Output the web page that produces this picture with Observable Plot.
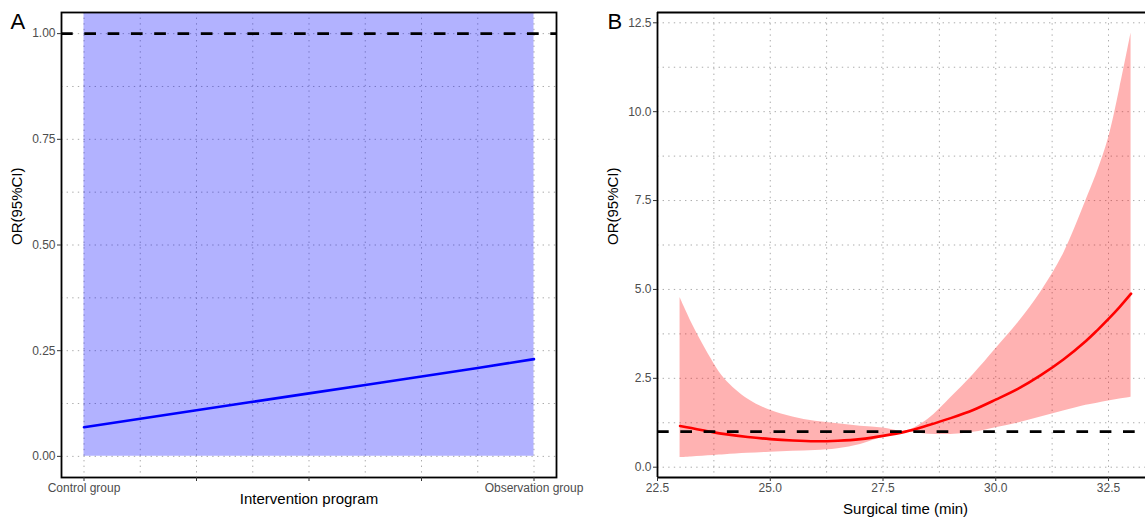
<!DOCTYPE html>
<html><head><meta charset="utf-8">
<script src="https://cdn.jsdelivr.net/npm/d3@7"></script>
<script src="https://cdn.jsdelivr.net/npm/@observablehq/plot@0.6"></script>
<style>
body{margin:0;background:#fff;}
#wrap{display:flex;width:1145px;height:517px;overflow:hidden;}
#wrap svg{display:block;flex:none;}
</style></head><body><div id="wrap"></div>
<script>
// ---------- Panel A data ----------
const xA = [0, 0.125, 0.25, 0.375, 0.5, 0.625, 0.75, 0.875, 1];
const orA = [0.069, 0.089, 0.109, 0.129, 0.149, 0.169, 0.189, 0.209, 0.230];
const lowA = [0, 0, 0, 0, 0, 0, 0, 0, 0];
const highA = [1.05, 1.05, 1.05, 1.05, 1.05, 1.05, 1.05, 1.05, 1.05];
const xBreaksA = [0, 0.25, 0.5, 0.75, 1];
const xLabelsA = ["Control group", "", "", "", "Observation group"];
const xMinorA = [0.125, 0.375, 0.625, 0.875];
const yBreaksA = [0, 0.25, 0.5, 0.75, 1];
const yLabelsA = ["0.00", "0.25", "0.50", "0.75", "1.00"];
const yMinorA = [0.125, 0.375, 0.625, 0.875];
const refA = [1];

// ---------- Panel B data ----------
const xB   = [23, 23.25, 23.5, 23.75, 24, 24.5, 25, 25.5, 26, 26.5, 27, 27.5, 28, 28.5, 29, 29.5, 30, 30.5, 31, 31.5, 32, 32.25, 32.5, 32.75, 33];
const orB  = [1.16, 1.10, 1.04, 0.98, 0.93, 0.85, 0.79, 0.75, 0.73, 0.745, 0.79, 0.88, 1.00, 1.18, 1.38, 1.61, 1.90, 2.21, 2.59, 3.03, 3.55, 3.85, 4.17, 4.51, 4.88];
const lowB = [0.27, 0.29, 0.31, 0.33, 0.35, 0.39, 0.42, 0.45, 0.47, 0.52, 0.64, 0.84, 0.99, 0.93, 0.92, 0.98, 1.11, 1.24, 1.41, 1.58, 1.74, 1.80, 1.86, 1.92, 1.97];
const highB= [4.77, 4.08, 3.47, 2.92, 2.47, 1.92, 1.60, 1.41, 1.29, 1.22, 1.15, 1.10, 1.02, 1.35, 1.95, 2.60, 3.33, 4.07, 4.93, 6.00, 7.50, 8.30, 9.25, 10.65, 12.21];
const xBreaksB = [22.5, 25, 27.5, 30, 32.5];
const xLabelsB = ["22.5", "25.0", "27.5", "30.0", "32.5"];
const xMinorB = [23.75, 26.25, 28.75, 31.25];
const yBreaksB = [0, 2.5, 5, 7.5, 10, 12.5];
const yLabelsB = ["0.0", "2.5", "5.0", "7.5", "10.0", "12.5"];
const yMinorB = [1.25, 3.75, 6.25, 8.75, 11.25];
const refB = [1];

const FONT = "Liberation Sans, Arial, Helvetica, sans-serif";
const GRID = {stroke: "#ababab", strokeWidth: 1, strokeDasharray: "1.4,4.2"};

const dataA = xA.map((x, i) => ({x, y: orA[i], lo: lowA[i], hi: highA[i]}));
const dataB = xB.map((x, i) => ({x, y: orB[i], lo: lowB[i], hi: highB[i]}));

const plotA = Plot.plot({
  width: 590, height: 517,
  marginLeft: 61, marginRight: 34, marginTop: 12, marginBottom: 40,
  style: {fontFamily: FONT, background: "white"},
  x: {domain: [-0.05, 1.05]},
  y: {domain: [-0.05, 1.05]},
  marks: [
    Plot.ruleX(xMinorA, GRID),
    Plot.ruleX(xBreaksA, GRID),
    Plot.ruleY(yMinorA, GRID),
    Plot.ruleY(yBreaksA, GRID),
    Plot.areaY(dataA, {x: "x", y1: "lo", y2: "hi", fill: "blue", fillOpacity: 0.3, clip: true}),
    Plot.line(dataA, {x: "x", y: "y", stroke: "blue", strokeWidth: 2.6}),
    Plot.ruleY(refA, {stroke: "black", strokeWidth: 2.6, strokeDasharray: "11.7,11.6"}),
    Plot.frame({stroke: "black", strokeWidth: 1.8}),
    Plot.axisX(xBreaksA, {tickSize: 4, tickPadding: 2, fontSize: 12, fill: "#4d4d4d", stroke: "#333",
      tickFormat: d => xLabelsA[xBreaksA.indexOf(d)], label: null}),
    Plot.axisY(yBreaksA, {tickSize: 4, tickPadding: 2, fontSize: 12, fill: "#4d4d4d", stroke: "#333",
      tickFormat: d => yLabelsA[yBreaksA.indexOf(d)], label: null}),
    Plot.text(["Intervention program"], {text: d => d, frameAnchor: "bottom", lineAnchor: "bottom", dy: 26, fontSize: 15, fill: "black"}),
    Plot.text(["OR(95%CI)"], {text: d => d, frameAnchor: "left", rotate: -90, dx: -44, fontSize: 15, fill: "black"}),
    Plot.text(["A"], {text: d => d, frameAnchor: "top-left", textAnchor: "start", lineAnchor: "bottom", dx: -51, dy: 16, fontSize: 22, fill: "black"})
  ]
});

const plotB = Plot.plot({
  width: 555, height: 517,
  marginLeft: 67, marginRight: 0, marginTop: 12, marginBottom: 40,
  style: {fontFamily: FONT, background: "white"},
  x: {domain: [22.5, 33.32]},
  y: {domain: [-0.29, 12.79]},
  marks: [
    Plot.ruleX(xMinorB, GRID),
    Plot.ruleX(xBreaksB, GRID),
    Plot.ruleY(yMinorB, GRID),
    Plot.ruleY(yBreaksB, GRID),
    Plot.areaY(dataB, {x: "x", y1: "lo", y2: "hi", fill: "red", fillOpacity: 0.3, curve: "catmull-rom"}),
    Plot.line(dataB, {x: "x", y: "y", stroke: "red", strokeWidth: 2.6, curve: "catmull-rom"}),
    Plot.ruleY(refB, {stroke: "black", strokeWidth: 2.6, strokeDasharray: "11.7,11.6"}),
    Plot.ruleX([22.5], {stroke: "black", strokeWidth: 1.8}),
    Plot.ruleY([-0.29, 12.79], {stroke: "black", strokeWidth: 1.8}),
    Plot.axisX(xBreaksB, {tickSize: 4, tickPadding: 2, fontSize: 12, fill: "#4d4d4d", stroke: "#333",
      tickFormat: d => xLabelsB[xBreaksB.indexOf(d)], label: null}),
    Plot.axisY(yBreaksB, {tickSize: 4, tickPadding: 2, fontSize: 12, fill: "#4d4d4d", stroke: "#333",
      tickFormat: d => yLabelsB[yBreaksB.indexOf(d)], label: null}),
    Plot.text(["Surgical time (min)"], {text: d => d, x: () => 28, frameAnchor: "bottom", lineAnchor: "bottom", dy: 36, fontSize: 15, fill: "black"}),
    Plot.text(["OR(95%CI)"], {text: d => d, frameAnchor: "left", rotate: -90, dx: -44, fontSize: 15, fill: "black"}),
    Plot.text(["B"], {text: d => d, frameAnchor: "top-left", textAnchor: "start", lineAnchor: "bottom", dx: -50, dy: 16, fontSize: 22, fill: "black"})
  ]
});

document.getElementById("wrap").append(plotA, plotB);
</script></body></html>
